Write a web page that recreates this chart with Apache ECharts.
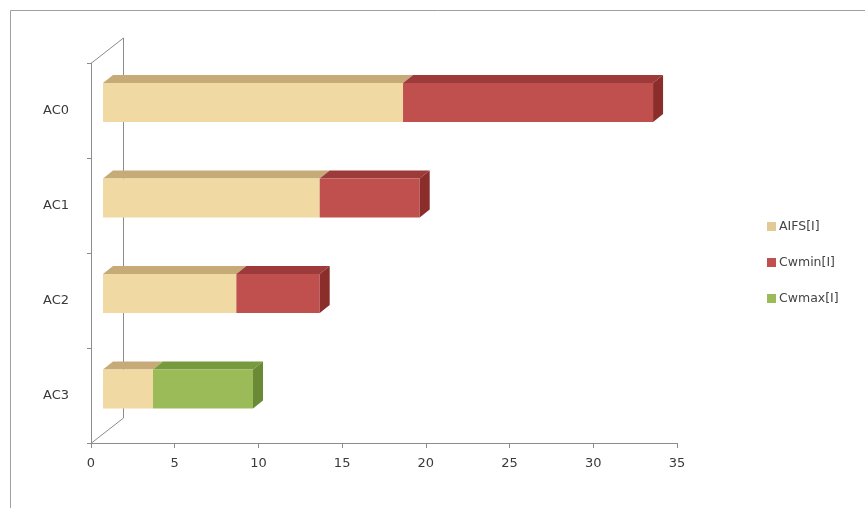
<!DOCTYPE html>
<html>
<head>
<meta charset="utf-8">
<script src="https://cdn.jsdelivr.net/npm/echarts@6/dist/echarts.min.js"></script>
<style>
html,body{margin:0;padding:0;background:#fff;}
#main{width:865px;height:508px;}
</style>
</head>
<body>
<div id="main"></div>
<script>
// ---- data ----
var categories = ['AC0', 'AC1', 'AC2', 'AC3'];
var seriesNames = ['AIFS[I]', 'Cwmin[I]', 'Cwmax[I]'];
var aifs  = [18, 13, 8, 3];
var cwmin = [15, 6, 5, 0];
var cwmax = [0, 0, 0, 6];
var xTicks = [0, 5, 10, 15, 20, 25, 30, 35];

// ---- styles ----
var faceColors = [
  {front: '#F0D9A2', top: '#C6AB78', side: '#B89C68'},
  {front: '#C0504D', top: '#9C3B39', side: '#8A2D2B'},
  {front: '#9BBB59', top: '#779A3E', side: '#6A8A35'}
];
var legendColors = ['#E3C996', '#C0504D', '#9BBB59'];

var values = [aifs, cwmin, cwmax];
var DX = 10, DY = 8, BAR_RATIO = 0.41;

function buildData(si) {
  var out = [];
  for (var c = 0; c < categories.length; c++) {
    var start = 0;
    for (var k = 0; k < si; k++) start += values[k][c];
    var end = start + values[si][c];
    var isLast = true;
    for (var k2 = si + 1; k2 < values.length; k2++) if (values[k2][c] > 0) isLast = false;
    out.push([start, end, c, isLast ? 1 : 0]);
  }
  return out;
}

function makeRender(si) {
  var col = faceColors[si];
  return function (params, api) {
    var s = api.value(0), e = api.value(1), c = api.value(2), last = api.value(3);
    if (e - s <= 0) return null;
    var p0 = api.coord([s, c]);
    var p1 = api.coord([e, c]);
    var band = api.size([0, 1])[1];
    var h = band * BAR_RATIO;
    var x0 = p0[0], x1 = p1[0], yT = p0[1] - h / 2, yB = p0[1] + h / 2;
    var children = [
      {type: 'polygon', shape: {points: [[x0, yT], [x1, yT], [x1 + DX, yT - DY], [x0 + DX, yT - DY]]},
       style: {fill: col.top}},
      {type: 'rect', shape: {x: x0, y: yT, width: x1 - x0, height: h},
       style: {fill: col.front}}
    ];
    if (last) {
      children.push({type: 'polygon', shape: {points: [[x1, yT], [x1 + DX, yT - DY], [x1 + DX, yB - DY], [x1, yB]]},
        style: {fill: col.side}});
    }
    return {type: 'group', children: children};
  };
}

var series = seriesNames.map(function (name, si) {
  return {
    type: 'custom', name: name,
    xAxisIndex: 1, yAxisIndex: 1,
    renderItem: makeRender(si),
    encode: {x: [0, 1], y: 2},
    data: buildData(si),
    itemStyle: {color: legendColors[si]}
  };
});

var chart = echarts.init(document.getElementById('main'));
var axisGray = '#8C8C8C';
var textCol = '#3A3A3A';
chart.setOption({
  backgroundColor: '#fff',
  animation: false,
  grid: [
    {left: 91, top: 63, width: 586, height: 380},
    {left: 103, top: 54.75, width: 583.4, height: 382}
  ],
  xAxis: [
    {gridIndex: 0, type: 'value', min: 0, max: 35, interval: 5,
     axisLine: {show: true, lineStyle: {color: axisGray}},
     axisTick: {show: true, length: 5, lineStyle: {color: axisGray}},
     splitLine: {show: false},
     axisLabel: {color: textCol, fontFamily: 'DejaVu Sans', fontSize: 13, margin: 14,
       formatter: function (v) { return xTicks.indexOf(v) >= 0 ? String(v) : ''; }}},
    {gridIndex: 1, type: 'value', min: 0, max: 35, show: false}
  ],
  yAxis: [
    {gridIndex: 0, type: 'category', data: categories, inverse: true,
     axisLine: {show: true, lineStyle: {color: axisGray}},
     axisTick: {show: true, length: 4, lineStyle: {color: axisGray}},
     axisLabel: {color: textCol, fontFamily: 'DejaVu Sans', fontSize: 13, margin: 22,
       padding: [6, 0, 0, 0]}},
    {gridIndex: 1, type: 'category', data: categories, inverse: true, show: false}
  ],
  legend: {
    orient: 'vertical', left: 762, top: 215,
    itemWidth: 9, itemHeight: 9, itemGap: 23, icon: 'rect',
    textStyle: {color: '#444', fontFamily: 'DejaVu Sans', fontSize: 12.5, padding: [0, 0, 0, -2]},
    data: seriesNames
  },
  graphic: [
    {type: 'line', shape: {x1: 10.5, y1: 10.5, x2: 865, y2: 10.5}, style: {stroke: '#A0A0A0', lineWidth: 1}},
    {type: 'line', shape: {x1: 10.5, y1: 10.5, x2: 10.5, y2: 508}, style: {stroke: '#A0A0A0', lineWidth: 1}},
    {type: 'line', shape: {x1: 91.5, y1: 63, x2: 123.5, y2: 38}, style: {stroke: axisGray, lineWidth: 1}},
    {type: 'line', shape: {x1: 123.5, y1: 38, x2: 123.5, y2: 418}, style: {stroke: axisGray, lineWidth: 1}},
    {type: 'line', shape: {x1: 91.5, y1: 443, x2: 123.5, y2: 418}, style: {stroke: axisGray, lineWidth: 1}}
  ],
  series: series
});
</script>
</body>
</html>
